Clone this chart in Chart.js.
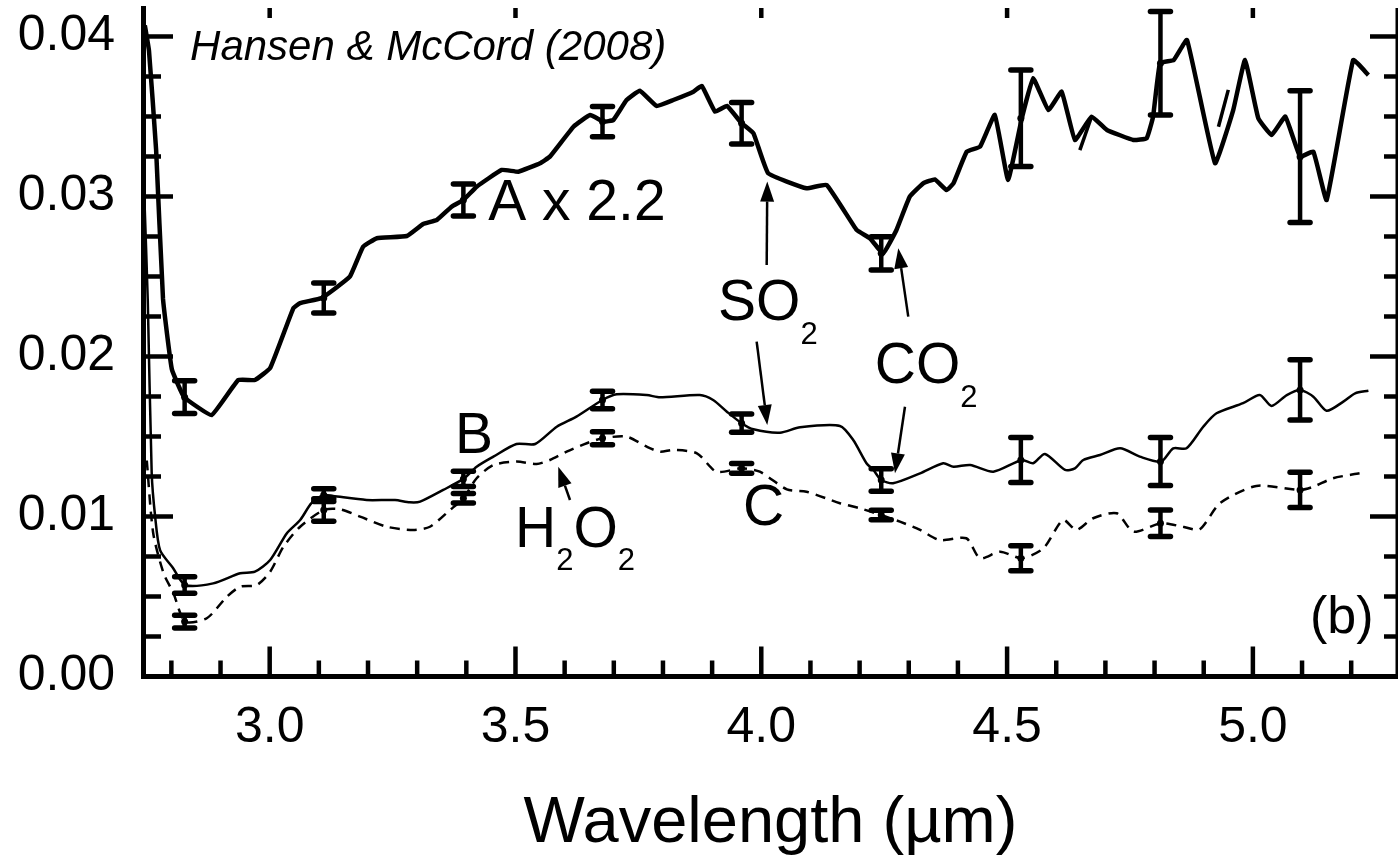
<!DOCTYPE html>
<html>
<head>
  <meta charset="utf-8">
  <title>Hansen &amp; McCord (2008) spectra</title>
  <script src="https://cdn.jsdelivr.net/npm/chart.js"></script>
  <style>
    html, body { margin: 0; padding: 0; background: #fff; }
  </style>
</head>
<body>
  <canvas id="spectra" width="1398" height="861"></canvas>

  <script>
    // axis ticks
    var xTicks = [3.0, 3.5, 4.0, 4.5, 5.0];
    var xMinorTicks = [2.8, 2.9, 3.1, 3.2, 3.3, 3.4, 3.6, 3.7, 3.8, 3.9, 4.1, 4.2, 4.3, 4.4, 4.6, 4.7, 4.8, 4.9, 5.1, 5.2];
    var yTicks = [0, 0.01, 0.02, 0.03, 0.04];
    var yMinorTicks = [0.0025, 0.005, 0.0075, 0.0125, 0.015, 0.0175, 0.0225, 0.025, 0.0275, 0.0325, 0.035, 0.0375];

    // spectrum A (x 2.2)
    var aX = [2.746, 2.7545, 2.769, 2.783, 2.801, 2.826, 2.882, 2.936, 2.970, 3.001, 3.048, 3.062, 3.106, 3.163, 3.190,
      3.218, 3.279, 3.312, 3.340, 3.370, 3.394, 3.421, 3.472, 3.506, 3.550, 3.570, 3.618, 3.652, 3.679, 3.699, 3.726,
      3.753, 3.787, 3.821, 3.862, 3.879, 3.906, 3.930, 3.960, 3.984, 4.014, 4.092, 4.133, 4.194, 4.221, 4.248, 4.275,
      4.302, 4.330, 4.353, 4.377, 4.391, 4.418, 4.445, 4.475, 4.502, 4.530, 4.553, 4.584, 4.611, 4.638, 4.672, 4.703,
      4.757, 4.784, 4.797, 4.811, 4.839, 4.866, 4.923, 4.960, 4.984, 5.011, 5.038, 5.066, 5.096, 5.123, 5.150, 5.204, 5.235];
    var aY = [0.0407, 0.0391, 0.0329, 0.0236, 0.0192, 0.01746, 0.01634, 0.01853, 0.01853, 0.01928, 0.02301, 0.02334, 0.02366, 0.02499, 0.02686,
      0.02739, 0.02753, 0.02828, 0.02853, 0.02936, 0.02978, 0.03061, 0.03166, 0.03155, 0.03208, 0.03249, 0.03436, 0.03509, 0.03468, 0.03478, 0.03603,
      0.03661, 0.03566, 0.03603, 0.03655, 0.03691, 0.0353, 0.03566, 0.03458, 0.03395, 0.03145, 0.03051, 0.03072, 0.02791, 0.02739, 0.02645, 0.02791,
      0.02999, 0.03083, 0.03107, 0.0304, 0.03083, 0.0328, 0.03311, 0.0351, 0.03103, 0.03489, 0.03739, 0.0354, 0.03655, 0.03353, 0.03499, 0.03416,
      0.03353, 0.03364, 0.03499, 0.03833, 0.03853, 0.03978, 0.03208, 0.0354, 0.03853, 0.03489, 0.03384, 0.03499, 0.03249, 0.0328, 0.02978, 0.03853, 0.03759];
    // short overlapping pieces of A
    var aPiece1X = [4.648, 4.672];
    var aPiece1Y = [0.0329, 0.0350];
    var aPiece2X = [4.930, 4.950];
    var aPiece2Y = [0.03436, 0.03666];

    // spectrum B
    var bX = [2.745, 2.752, 2.760, 2.767, 2.777, 2.803, 2.828, 2.885, 2.940, 2.970, 3.001, 3.035, 3.062, 3.085, 3.110,
      3.129, 3.197, 3.255, 3.285, 3.306, 3.353, 3.394, 3.421, 3.455, 3.502, 3.540, 3.584, 3.624, 3.677, 3.706, 3.767,
      3.794, 3.875, 3.902, 3.930, 3.960, 3.984, 4.038, 4.079, 4.160, 4.187, 4.214, 4.228, 4.244, 4.268, 4.323, 4.370,
      4.391, 4.425, 4.472, 4.530, 4.553, 4.577, 4.618, 4.638, 4.655, 4.689, 4.730, 4.770, 4.813, 4.838, 4.865, 4.899,
      4.926, 4.980, 5.014, 5.038, 5.069, 5.096, 5.123, 5.150, 5.184, 5.208, 5.235];
    var bY = [0.030, 0.0235, 0.0127, 0.0100, 0.0079, 0.0068, 0.00572, 0.00582, 0.00645, 0.00655, 0.00728, 0.00895, 0.00978, 0.01083, 0.01134,
      0.01128, 0.01103, 0.01103, 0.01089, 0.01093, 0.01166, 0.01235, 0.01311, 0.01374, 0.01453, 0.01453, 0.01561, 0.01624, 0.01728, 0.01764, 0.01759,
      0.01745, 0.01759, 0.01728, 0.01655, 0.01583, 0.01545, 0.01524, 0.01558, 0.01566, 0.01478, 0.01333, 0.01291, 0.01228, 0.01208, 0.0127, 0.01333,
      0.01311, 0.01322, 0.0128, 0.01353, 0.01333, 0.01391, 0.01291, 0.01301, 0.01353, 0.01384, 0.01426, 0.01374, 0.01343, 0.01426, 0.01426, 0.01561,
      0.01645, 0.01708, 0.01759, 0.01691, 0.01759, 0.01791, 0.01749, 0.01661, 0.01718, 0.0177, 0.01786];

    // spectrum C (dashed)
    var cX = [2.750, 2.763, 2.784, 2.804, 2.828, 2.872, 2.913, 2.940, 2.974, 3.001, 3.028, 3.062, 3.110, 3.143, 3.184,
      3.238, 3.292, 3.326, 3.367, 3.394, 3.421, 3.455, 3.502, 3.543, 3.570, 3.604, 3.645, 3.677, 3.726, 3.767, 3.794,
      3.821, 3.869, 3.909, 3.960, 3.997, 4.052, 4.092, 4.160, 4.201, 4.244, 4.282, 4.323, 4.363, 4.417, 4.445, 4.486,
      4.530, 4.574, 4.614, 4.641, 4.675, 4.723, 4.757, 4.813, 4.858, 4.892, 4.933, 5.007, 5.096, 5.123, 5.163, 5.217];
    var cY = [0.0135, 0.00897, 0.00647, 0.00522, 0.00343, 0.00364, 0.00499, 0.00561, 0.00572, 0.00655, 0.00811, 0.00936, 0.01041, 0.01045, 0.00999,
      0.00936, 0.00916, 0.00936, 0.01041, 0.01114, 0.01239, 0.01322, 0.01343, 0.01328, 0.01353, 0.01405, 0.01458, 0.01489, 0.01499, 0.01436, 0.01405,
      0.01416, 0.01395, 0.0128, 0.01301, 0.0128, 0.0117, 0.01155, 0.01083, 0.01051, 0.01009, 0.00968, 0.00916, 0.00853, 0.00864, 0.00739, 0.0078,
      0.00739, 0.00801, 0.00978, 0.00916, 0.00989, 0.0102, 0.00905, 0.00958, 0.00936, 0.0092, 0.01083, 0.01191, 0.01166, 0.01186, 0.01239, 0.0127];

    // error bars (same wavelengths for all three spectra)
    var errX = [2.827, 3.110, 3.394, 3.677, 3.960, 4.244, 4.528, 4.812, 5.096];
    var aErrY = [0.01746, 0.02366, 0.02978, 0.03468, 0.03458, 0.02645, 0.03489, 0.03833, 0.03249];
    var aErr = [0.00103, 0.00094, 0.0010, 0.00094, 0.0013, 0.00104, 0.00302, 0.00323, 0.00412];
    var bErrY = [0.00572, 0.01134, 0.01235, 0.01728, 0.01583, 0.01228, 0.01353, 0.01343, 0.01791];
    var bErr = [0.00052, 0.0004, 0.00047, 0.00055, 0.00057, 0.0007, 0.0014, 0.0015, 0.00188];
    var cErrY = [0.00343, 0.01041, 0.01114, 0.01489, 0.01301, 0.01009, 0.00739, 0.00958, 0.01166];
    var cErr = [0.0004, 0.0007, 0.0003, 0.0004, 0.0003, 0.0003, 0.00078, 0.00083, 0.0011];

    var FONT = "'Liberation Sans', Arial, Helvetica, sans-serif";

    // text and arrows, placed in data coordinates
    var notes = [
      { x: 2.838, y: 0.03853, italic: true, parts: [['Hansen & McCord (2008)', 42, 0]] },
      { x: 3.4444, y: 0.02853, parts: [['A x 2.2', 57, 0]] },
      { x: 3.912, y: 0.02228, parts: [['SO', 57, 0], ['2', 31, 24]] },
      { x: 4.231, y: 0.01834, parts: [['CO', 57, 0], ['2', 31, 24]] },
      { x: 3.377, y: 0.01397, parts: [['B', 57, 0]] },
      { x: 3.963, y: 0.00947, parts: [['C', 57, 0]] },
      { x: 3.499, y: 0.00809, parts: [['H', 57, 0], ['2', 31, 23], ['O', 57, 0], ['2', 31, 23]] },
      { x: 5.116, y: 0.00272, parts: [['(b)', 52, 0]] }
    ];
    var arrows = [
      [4.0110, 0.02572, 4.0122, 0.03093],
      [3.9906, 0.02093, 4.0122, 0.01572],
      [4.2990, 0.02249, 4.2787, 0.02676],
      [4.2923, 0.01686, 4.2720, 0.01270],
      [3.6109, 0.01103, 3.5870, 0.01311]
    ];

    function points(xs, ys) {
      return xs.map(function (x, i) { return { x: x, y: ys[i] }; });
    }

    // ticks, error bars, arrows and labels drawn on top of the data
    var decor = {
      id: 'decor',
      afterDatasetsDraw: function (chart) {
        var ctx = chart.ctx, xs = chart.scales.x, ys = chart.scales.y, a = chart.chartArea;
        var px = function (v) { return xs.getPixelForValue(v); };
        var py = function (v) { return ys.getPixelForValue(v); };
        function seg(x0, y0, x1, y1) { ctx.beginPath(); ctx.moveTo(x0, y0); ctx.lineTo(x1, y1); ctx.stroke(); }

        ctx.save();
        ctx.strokeStyle = '#000';
        ctx.fillStyle = '#000';

        // error bars
        [[aErrY, aErr], [bErrY, bErr], [cErrY, cErr]].forEach(function (s) {
          errX.forEach(function (xv, i) {
            var x = px(xv), lo = py(s[0][i] - s[1][i]), hi = py(s[0][i] + s[1][i]);
            ctx.lineCap = 'butt';
            ctx.lineWidth = 4.5;
            seg(x, lo, x, hi);
            ctx.lineCap = 'round';
            ctx.lineWidth = 5.5;
            seg(x - 10, lo, x + 10, lo);
            seg(x - 10, hi, x + 10, hi);
            ctx.beginPath();
            ctx.arc(x, py(s[0][i]), 3.5, 0, Math.PI * 2);
            ctx.fill();
          });
        });

        // inward ticks on all four sides
        ctx.lineCap = 'butt';
        ctx.lineWidth = 4.5;
        xTicks.forEach(function (v) {
          seg(px(v), a.bottom, px(v), a.bottom - 30);
          seg(px(v), a.top, px(v), a.top + 10);
        });
        xMinorTicks.forEach(function (v) { seg(px(v), a.bottom, px(v), a.bottom - 16); });
        yTicks.forEach(function (v) {
          seg(a.left, py(v), a.left + 30, py(v));
          seg(a.right, py(v), a.right - 28, py(v));
        });
        yMinorTicks.forEach(function (v) {
          seg(a.left, py(v), a.left + 18, py(v));
          seg(a.right, py(v), a.right - 14, py(v));
        });
        ctx.lineWidth = 5;
        seg(a.right, a.top, a.right, a.bottom);

        // arrows
        ctx.lineWidth = 2.5;
        arrows.forEach(function (r) {
          var x0 = px(r[0]), y0 = py(r[1]), x1 = px(r[2]), y1 = py(r[3]);
          var ang = Math.atan2(y1 - y0, x1 - x0), len = 20, hw = 7;
          var bx = x1 - len * Math.cos(ang), by = y1 - len * Math.sin(ang);
          seg(x0, y0, bx, by);
          ctx.beginPath();
          ctx.moveTo(x1, y1);
          ctx.lineTo(bx - hw * Math.sin(ang), by + hw * Math.cos(ang));
          ctx.lineTo(bx + hw * Math.sin(ang), by - hw * Math.cos(ang));
          ctx.closePath();
          ctx.fill();
        });

        // labels
        ctx.textBaseline = 'alphabetic';
        ctx.textAlign = 'left';
        notes.forEach(function (n) {
          var x = px(n.x), y = py(n.y);
          n.parts.forEach(function (p) {
            ctx.font = (n.italic ? 'italic ' : '') + p[1] + 'px ' + FONT;
            ctx.fillText(p[0], x, y + p[2]);
            x += ctx.measureText(p[0]).width;
          });
        });
        ctx.restore();
      }
    };

    new Chart(document.getElementById('spectra'), {
      type: 'scatter',
      data: {
        datasets: [
          { label: 'A x 2.2', data: points(aX, aY), showLine: true, borderColor: '#000', borderWidth: 4.5, pointRadius: 0, tension: 0.1 },
          { label: 'A piece 1', data: points(aPiece1X, aPiece1Y), showLine: true, borderColor: '#000', borderWidth: 3.5, pointRadius: 0 },
          { label: 'A piece 2', data: points(aPiece2X, aPiece2Y), showLine: true, borderColor: '#000', borderWidth: 3.5, pointRadius: 0 },
          { label: 'B', data: points(bX, bY), showLine: true, borderColor: '#000', borderWidth: 2.5, pointRadius: 0, tension: 0.25 },
          { label: 'C', data: points(cX, cY), showLine: true, borderColor: '#000', borderWidth: 2.5, borderDash: [10, 7], pointRadius: 0, tension: 0.25 }
        ]
      },
      options: {
        responsive: false,
        devicePixelRatio: 1,
        animation: false,
        layout: { padding: { top: 8, right: 0, bottom: 0, left: 0 } },
        plugins: { legend: { display: false }, tooltip: { enabled: false } },
        scales: {
          x: {
            type: 'linear',
            position: 'bottom',
            min: 2.7423,
            max: 5.2952,
            afterBuildTicks: function (s) { s.ticks = xTicks.map(function (v) { return { value: v }; }); },
            afterFit: function (s) {
              s.height = 184.5;
              s.paddingLeft = 0;
              s.paddingRight = 0;
            },
            ticks: {
              color: '#000',
              padding: 26.5,
              autoSkip: false,
              maxRotation: 0,
              font: { family: FONT, size: 50, lineHeight: 1 },
              callback: function (v) { return Number(v).toFixed(1); }
            },
            grid: { display: false, drawTicks: false },
            border: { display: true, color: '#000', width: 5 },
            title: {
              display: true,
              text: 'Wavelength (µm)',
              color: '#000',
              font: { family: FONT, size: 65, lineHeight: 1 },
              padding: { top: 0, bottom: 4 }
            }
          },
          y: {
            type: 'linear',
            position: 'left',
            min: 0,
            max: 0.04178,
            afterBuildTicks: function (s) { s.ticks = yTicks.map(function (v) { return { value: v }; }); },
            afterFit: function (s) {
              s.width = 143;
              s.paddingTop = 0;
              s.paddingBottom = 0;
            },
            ticks: {
              color: '#000',
              padding: 28,
              autoSkip: false,
              font: { family: FONT, size: 50, lineHeight: 1 },
              callback: function (v) { return Number(v).toFixed(2); }
            },
            grid: { display: false, drawTicks: false },
            border: { display: true, color: '#000', width: 5 }
          }
        }
      },
      plugins: [decor]
    });
  </script>
</body>
</html>
